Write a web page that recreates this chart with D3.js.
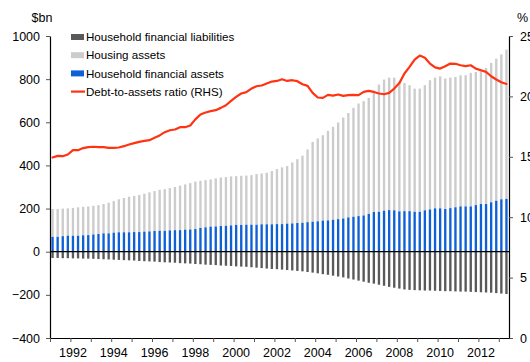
<!DOCTYPE html>
<html><head><meta charset="utf-8">
<script src="https://cdn.jsdelivr.net/npm/d3@7"></script>
<style>
body{margin:0;background:#fff}
svg{display:block}
text{font-family:"Liberation Sans",Arial,Helvetica,sans-serif;fill:#000}
</style>
</head><body>
<svg id="chart" width="530" height="362"></svg>
<script>
// ---- categories ----
const startYear = 1991;
const quarterCount = 90; // 1991 Q1 .. 2013 Q2
const quarters = d3.range(quarterCount).map(i => `${startYear + Math.floor(i / 4)} Q${i % 4 + 1}`);
const yearTicks = d3.range(1991, 2014);
const yearLabels = [1992, 1994, 1996, 1998, 2000, 2002, 2004, 2006, 2008, 2010, 2012];
const leftTicks = [-400, -200, 0, 200, 400, 600, 800, 1000];
const rightTicks = [0, 5, 10, 15, 20, 25];

// ---- series ($bn, quarterly) ----
const financialAssets = [
  69,69,72,74,74,74,76,77,80,82,85,85,88,90,90,90,91,91,93,94,96,97,97,99,100,100,102,103,105,
  110,113,116,117,119,120,122,124,124,125,125,125,127,127,127,128,128,130,131,133,134,137,139,141,144,145,148,151,154,159,162,
  165,168,175,184,185,190,193,192,187,188,188,185,185,192,196,201,201,198,202,206,210,210,210,216,221,221,229,236,243,245
];
const housingAssets = [
  129,129,128,127,129,132,132,133,133,134,136,142,147,153,159,165,167,172,176,181,185,190,193,196,200,206,210,215,220,
  219,219,219,223,225,226,227,226,228,228,230,235,236,239,247,255,263,267,283,296,311,337,370,384,396,415,431,448,468,484,505,
  522,530,538,557,590,608,614,615,600,594,584,571,571,580,599,606,612,605,605,604,608,608,619,617,617,631,646,659,672,692
];
const financialLiabilities = [
  -29,-29,-30,-30,-31,-31,-32,-32,-33,-34,-35,-36,-37,-38,-39,-40,-41,
  -43,-44,-45,-46,-48,-49,-50,-51,-53,-54,-55,-57,-58,-60,-61,-62,-64,-65,-66,-68,-69,-70,-72,-74,-76,-78,-80,
  -81,-83,-85,-87,-89,-91,-94,-97,-100,-104,-107,-111,-115,-119,-124,-129,-134,-139,-144,-148,-153,-158,-163,-167,-171,
  -175,-177,-178,-179,-180,-180,-181,-182,-183,-183,-184,-185,-185,-186,-187,-188,-189,-190,-192,-194,-196
];
// ---- debt-to-assets ratio (%, RHS) ----
const debtToAssets = [
  14.94,15.08,15.05,15.19,15.55,15.55,15.72,15.80,15.83,15.80,15.80,15.74,15.74,15.77,15.88,16.02,16.13,16.24,16.32,16.38,
  16.57,16.77,17.04,17.20,17.26,17.45,17.45,17.59,18.10,18.50,18.67,18.78,18.86,19.05,19.27,19.63,19.96,20.24,20.35,20.65,
  20.84,20.90,21.06,21.23,21.28,21.42,21.28,21.34,21.26,21.01,20.87,20.29,19.91,19.88,20.13,20.07,20.16,20.04,20.10,20.13,
  20.10,20.37,20.46,20.37,20.24,20.18,20.29,20.65,21.10,21.90,22.44,23.05,23.38,23.20,22.72,22.40,22.30,22.50,22.72,22.70,
  22.58,22.50,22.58,22.30,22.17,22.03,21.67,21.40,21.17,21.03
];

const legendItems = [
  {label: "Household financial liabilities", type: "rect", color: "#595959"},
  {label: "Housing assets", type: "rect", color: "#cccccc"},
  {label: "Household financial assets", type: "rect", color: "#0f5fd6"},
  {label: "Debt-to-assets ratio (RHS)", type: "line", color: "#ff3311"}
];

// ---- layout ----
const svg = d3.select("#chart");
const plot = {left: 50, right: 509, top: 36, bottom: 338};

const x = d3.scaleBand().domain(quarters).range([plot.left, plot.right])
  .paddingInner(0.54).paddingOuter(0.27);
const bw = x.bandwidth();
const yL = d3.scaleLinear().domain([-400, 1000]).range([plot.bottom, plot.top]);
const yR = d3.scaleLinear().domain([0, 25]).range([plot.bottom, plot.top]);
const xYear = d3.scaleLinear().domain([startYear, startYear + quarterCount / 4]).range([plot.left, plot.right]);

const rows = quarters.map((q, i) => ({
  q, fin: financialAssets[i], house: housingAssets[i], liab: financialLiabilities[i], ratio: debtToAssets[i]
}));

// housing assets stacked on financial assets
svg.append("g").selectAll("rect").data(rows).join("rect")
  .attr("x", d => x(d.q)).attr("width", bw)
  .attr("y", d => yL(d.fin + d.house))
  .attr("height", d => yL(d.fin) - yL(d.fin + d.house))
  .attr("fill", "#cccccc");
svg.append("g").selectAll("rect").data(rows).join("rect")
  .attr("x", d => x(d.q)).attr("width", bw)
  .attr("y", d => yL(d.fin))
  .attr("height", d => yL(0) - yL(d.fin))
  .attr("fill", "#0f5fd6");
svg.append("g").selectAll("rect").data(rows).join("rect")
  .attr("x", d => x(d.q)).attr("width", bw)
  .attr("y", yL(0))
  .attr("height", d => yL(d.liab) - yL(0))
  .attr("fill", "#595959");

// zero line
svg.append("line")
  .attr("x1", plot.left).attr("x2", plot.right)
  .attr("y1", yL(0)).attr("y2", yL(0))
  .attr("stroke", "#000").attr("stroke-width", 1.3);

// ratio line
svg.append("path").datum(rows)
  .attr("d", d3.line().x(d => x(d.q) + bw / 2).y(d => yR(d.ratio)))
  .attr("fill", "none").attr("stroke", "#ff3311").attr("stroke-width", 2.2)
  .attr("stroke-linejoin", "round").attr("stroke-linecap", "round");

// axes
function styleAxis(g) {
  g.selectAll(".domain").attr("stroke", "#000").attr("stroke-width", 1.2);
  g.selectAll(".tick line").attr("stroke", "#555");
  g.selectAll(".tick text").style("font-size", "12.5px").attr("fill", "#000");
}
svg.append("g").attr("transform", `translate(${plot.left},0)`)
  .call(d3.axisLeft(yL).tickValues(leftTicks).tickFormat(d3.format("d")).tickSize(4).tickSizeOuter(0).tickPadding(6))
  .call(styleAxis);
svg.append("g").attr("transform", `translate(${plot.right},0)`)
  .call(d3.axisRight(yR).tickValues(rightTicks).tickFormat(d3.format("d")).tickSize(4).tickSizeOuter(0).tickPadding(7))
  .call(styleAxis);
const bottom = svg.append("g").attr("transform", `translate(0,${plot.bottom})`)
  .call(d3.axisBottom(xYear).tickValues(yearTicks).tickFormat("").tickSize(4).tickSizeOuter(0))
  .call(styleAxis);
bottom.selectAll(".yl").data(yearLabels).join("text").attr("class", "yl")
  .attr("x", d => x(`${d} Q1`) + bw / 2).attr("y", 19)
  .attr("text-anchor", "middle").style("font-size", "12.5px")
  .text(d => d);

// unit labels
svg.append("text").attr("x", 42).attr("y", 22).attr("text-anchor", "middle").style("font-size", "12.5px").text("$bn");
svg.append("text").attr("x", 517).attr("y", 22).style("font-size", "12.5px").text("%");

// legend
const lg = svg.append("g").attr("transform", "translate(71,37)");
legendItems.forEach((it, i) => {
  const g = lg.append("g").attr("transform", `translate(0,${i * 18.2})`);
  if (it.type === "rect") {
    g.append("rect").attr("x", 0).attr("y", -3).attr("width", 13).attr("height", 6).attr("fill", it.color);
  } else {
    g.append("line").attr("x1", 0).attr("x2", 14).attr("y1", 0).attr("y2", 0)
      .attr("stroke", it.color).attr("stroke-width", 2.2);
  }
  g.append("text").attr("x", 15).attr("y", 4.2).style("font-size", "11.6px").text(it.label);
});
</script>
</body></html>
